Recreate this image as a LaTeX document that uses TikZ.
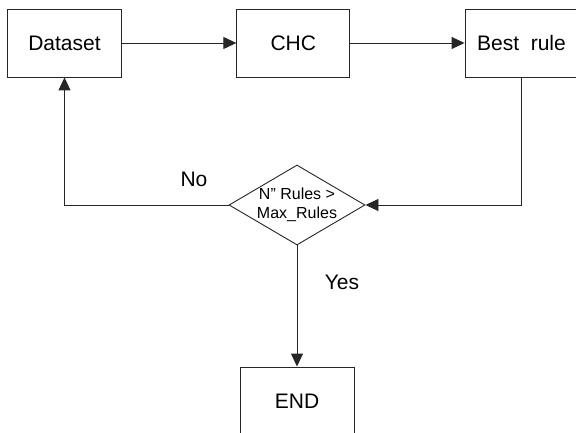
\documentclass[tikz,border=0pt]{standalone}
\usepackage{fontspec}
\setmainfont{Liberation Sans}
\usetikzlibrary{arrows.meta,shapes.geometric}
\begin{document}
\begin{tikzpicture}[x=1pt,y=-1pt,
  box/.style={draw=black!85, line width=0.9pt, minimum width=114pt, minimum height=68pt, inner sep=0pt, font=\fontsize{21}{24}\selectfont},
  conn/.style={draw=black!85, line width=0.9pt},
  arr/.style={conn, -{Triangle[length=13pt,width=12pt]}},
  lbl/.style={font=\fontsize{21}{24}\selectfont, inner sep=0pt}]
\clip (0,0) rectangle (576,433);
\fill[white] (0,0) rectangle (576,433);
\node[box] (ds) at (64.5,43) {Dataset};
\node[box, minimum width=113pt] (chc) at (293.3,43) {CHC};
\node[box, minimum width=113pt] (br) at (521.5,43) {Best\ \ rule};
\node[diamond, draw=black!85, line width=0.9pt, aspect=1.7, minimum width=136pt, minimum height=80pt, inner sep=-2pt, align=center, font=\fontsize{16}{19.5}\selectfont] (dec) at (297,205) {N” Rules >\\Max\_Rules};
\node[box] (end) at (297,401) {END};
\draw[arr] (ds.east) -- (chc.west);
\draw[arr] (chc.east) -- (br.west);
\draw[arr] (br.south) |- (dec.east);
\draw[arr] (dec.west) -| (ds.south);
\draw[arr] (dec.south) -- (end.north);
\node[lbl] (no) at (194,179) {No};
\node[lbl] (yes) at (342,282) {Yes};
\end{tikzpicture}
\end{document}
